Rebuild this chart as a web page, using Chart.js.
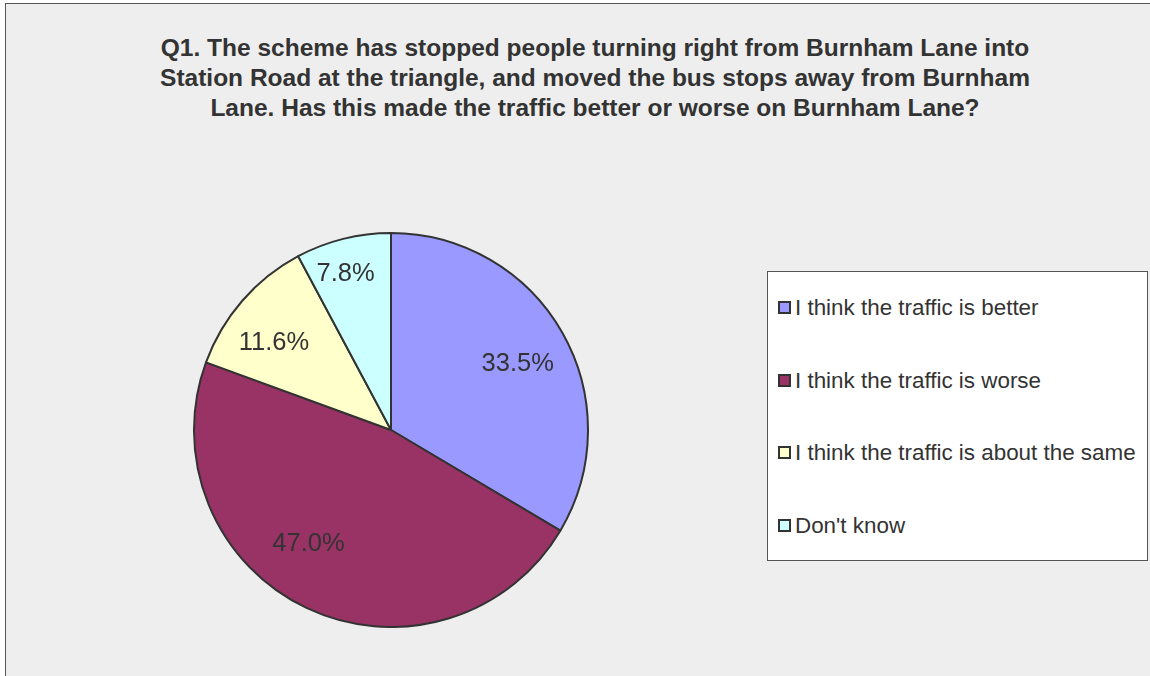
<!DOCTYPE html>
<html>
<head>
<meta charset="utf-8">
<script src="https://cdn.jsdelivr.net/npm/chart.js@4/dist/chart.umd.min.js"></script>
<style>
  html, body { margin: 0; padding: 0; width: 1150px; height: 676px; overflow: hidden; background: #ffffff; }
  #frame { position: absolute; left: 5px; top: 3px; width: 1160px; height: 690px; background: #eeeeee; border: 1.5px solid #555; box-sizing: border-box; }
  #title { position: absolute; left: 15px; top: 33px; width: 1160px; text-align: center; font-family: "Liberation Sans", Arial, sans-serif; font-weight: bold; font-size: 24.5px; line-height: 30px; color: #333; }
  #pieWrap { position: absolute; left: 193px; top: 232px; width: 396px; height: 396px; }
  #legend { position: absolute; left: 767px; top: 271px; width: 381px; height: 290px; background: #fff; border: 1.5px solid #555; box-sizing: border-box; font-family: "Liberation Sans", Arial, sans-serif; font-size: 22.4px; color: #333; }
  .item { position: absolute; left: 10px; height: 26px; line-height: 26px; white-space: nowrap; }
  .sw { display: inline-block; width: 9px; height: 9px; border: 2px solid #333; margin-right: 4px; vertical-align: 1px; }
</style>
</head>
<body>
<div id="frame"></div>
<div id="title">Q1. The scheme has stopped people turning right from Burnham Lane into<br>Station Road at the triangle, and moved the bus stops away from Burnham<br>Lane. Has this made the traffic better or worse on Burnham Lane?</div>
<div id="pieWrap"><canvas id="c" width="396" height="396"></canvas></div>
<div id="legend"></div>
<script>
const categories = ["I think the traffic is better", "I think the traffic is worse", "I think the traffic is about the same", "Don't know"];
const values = [33.5, 47.0, 11.6, 7.8];
const labels = ["33.5%", "47.0%", "11.6%", "7.8%"];
const colors = ["#9999ff", "#993366", "#ffffcc", "#ccffff"];

const legend = document.getElementById('legend');
categories.forEach((c, i) => {
  const d = document.createElement('div');
  d.className = 'item';
  d.style.top = (23 + i * 72.5) + 'px';
  d.innerHTML = '<span class="sw" style="background:' + colors[i] + '"></span>' + c.replace(/'/g, "&#39;");
  legend.appendChild(d);
});

// label nudges (style only), in px
const labelNudge = [[0, 6], [-20, -18], [-7, 9], [-10, -15]];

const labelPlugin = {
  id: 'sliceLabels',
  afterDatasetsDraw(chart) {
    const ctx = chart.ctx;
    const meta = chart.getDatasetMeta(0);
    ctx.save();
    ctx.font = '25.5px "Liberation Sans", Arial, sans-serif';
    ctx.fillStyle = '#333';
    ctx.textAlign = 'center';
    ctx.textBaseline = 'middle';
    meta.data.forEach((arc, i) => {
      const p = arc.getProps(['x', 'y', 'startAngle', 'endAngle', 'outerRadius'], true);
      const mid = (p.startAngle + p.endAngle) / 2;
      const r = p.outerRadius * 0.74;
      ctx.fillText(labels[i], p.x + Math.cos(mid) * r + labelNudge[i][0], p.y + Math.sin(mid) * r + labelNudge[i][1]);
    });
    ctx.restore();
  }
};

new Chart(document.getElementById('c'), {
  type: 'pie',
  data: {
    labels: categories,
    datasets: [{ data: values, backgroundColor: colors, borderColor: '#333', borderWidth: 2, hoverOffset: 0 }]
  },
  options: {
    responsive: false,
    animation: false,
    layout: { padding: 0 },
    plugins: { legend: { display: false }, tooltip: { enabled: false } }
  },
  plugins: [labelPlugin]
});
</script>
</body>
</html>
